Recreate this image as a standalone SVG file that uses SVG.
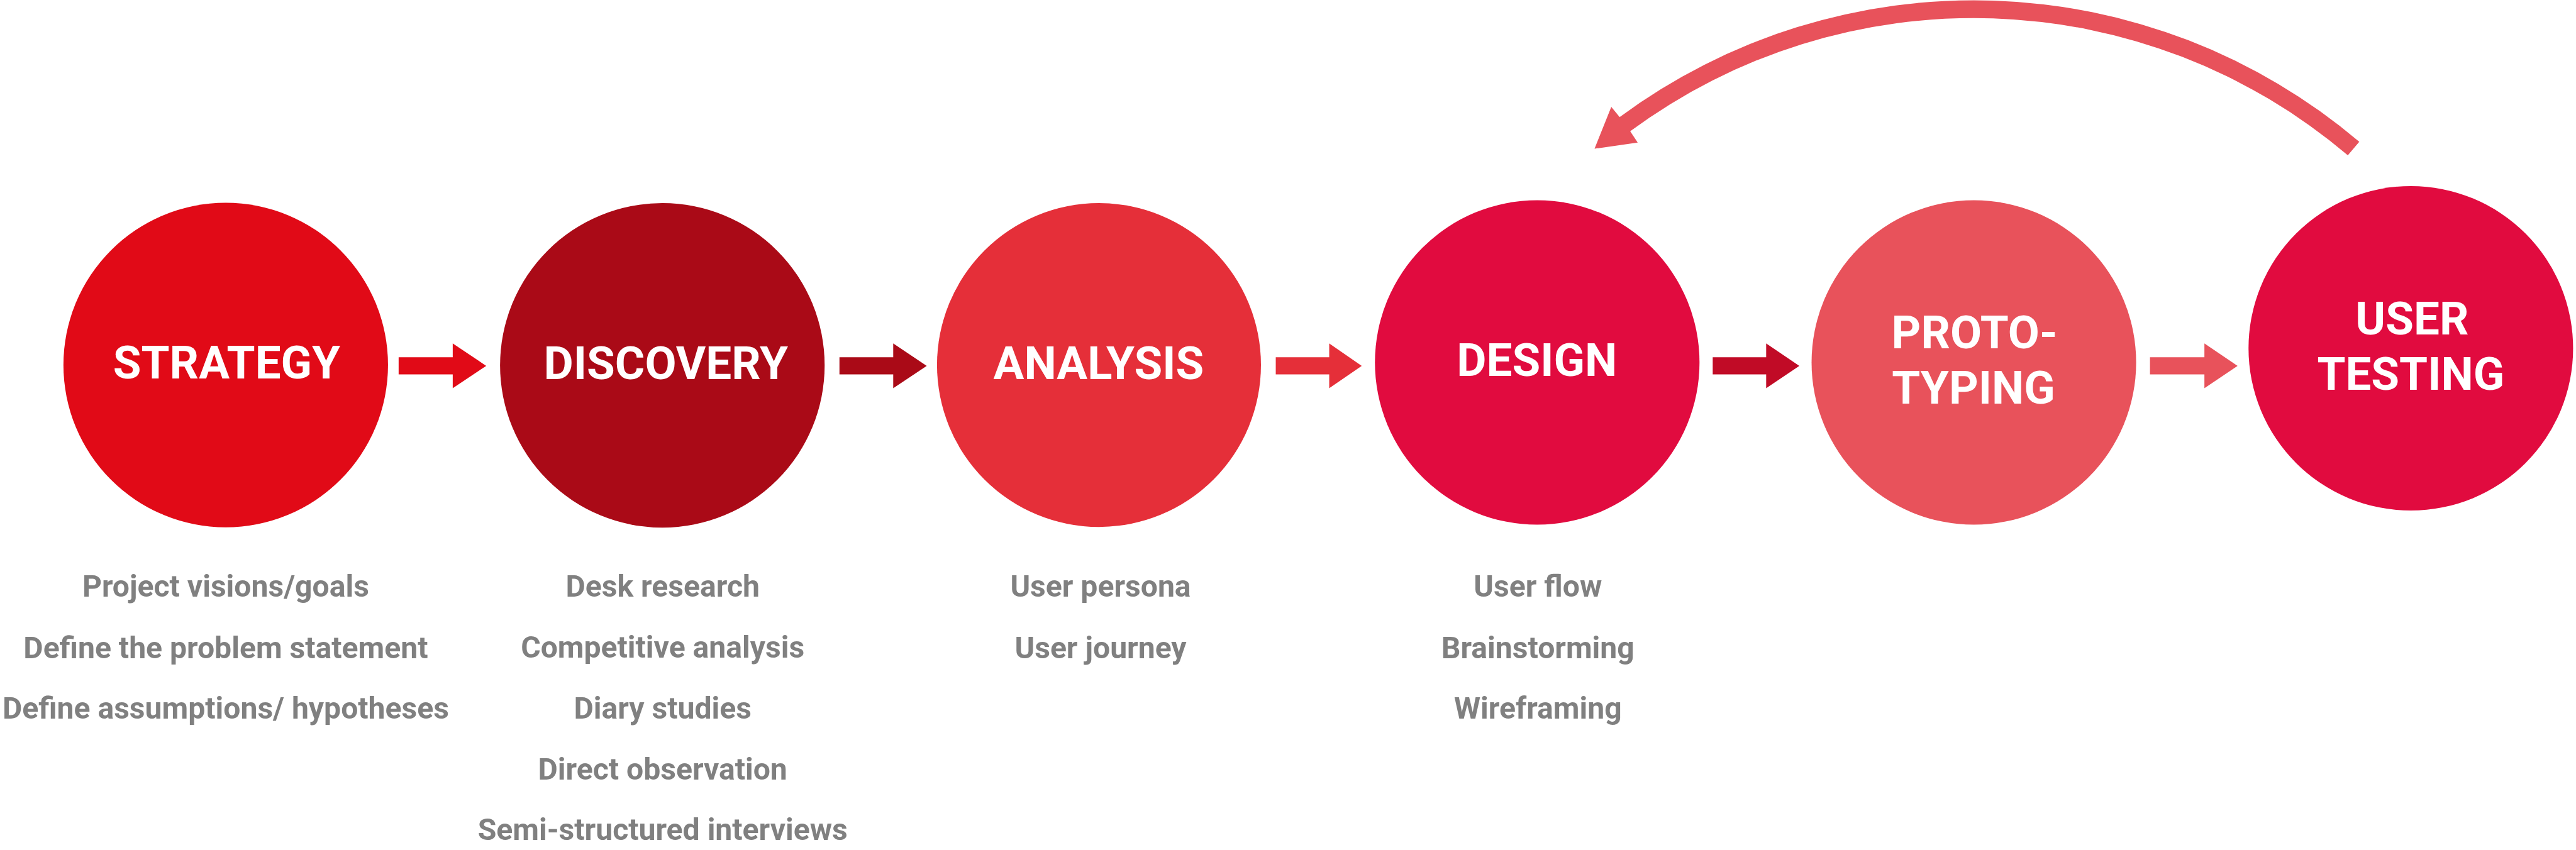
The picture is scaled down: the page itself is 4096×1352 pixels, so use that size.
<svg xmlns="http://www.w3.org/2000/svg" width="4096" height="1352" viewBox="0 0 4096 1352">
<style>
.title{font-family:Roboto,"Liberation Sans",sans-serif;font-weight:700;font-size:142px;fill:#fff;text-anchor:middle}
.sub{font-family:Roboto,"Liberation Sans",sans-serif;font-weight:700;font-size:94px;fill:#808080;text-anchor:middle}
.c1{fill:#E10A17}.c2{fill:#AA0A17}.c3{fill:#E52F39}.c4{fill:#E10B3F}.c5{fill:#E8525B}.c6{fill:#E10B3F}
.a4{fill:#C10B26}
</style>
<rect width="4096" height="1352" fill="#fff"/>
<g transform="scale(0.512)">
<g id="connectors">
<path class="c1" d="M1238 1110H1406V1067L1510 1136.5L1406 1206V1163H1238Z"/>
<path class="c2" d="M2607 1110H2774V1067L2878 1136.5L2774 1206V1163H2607Z"/>
<path class="c3" d="M3962 1110H4128V1067L4229 1136.5L4128 1206V1163H3962Z"/>
<path class="a4" d="M5319 1110H5485V1067L5588 1136.5L5485 1206V1163H5319Z"/>
<path class="c5" d="M6677 1110H6846V1067L6949 1136.5L6846 1206V1163H6677Z"/>
<path id="loop-arrow" class="c5" d="M7327 440.4 A1850 1850 0 0 0 5030 363.6 L5004 332 L4952 462 L5086 443 L5062.7 407.8 A1795 1795 0 0 1 7291.4 482.3 Z"/>
</g>
<g id="node-strategy">
<circle class="c1" cx="701" cy="1134" r="504"/>
<text class="title" x="704" y="1176">STRATEGY</text>
<text class="sub" x="701" y="1853">Project visions/goals</text>
<text class="sub" x="701" y="2044">Define the problem statement</text>
<text class="sub" x="701" y="2233">Define assumptions/ hypotheses</text>
</g>
<g id="node-discovery">
<circle class="c2" cx="2057" cy="1135" r="504"/>
<text class="title" x="2068" y="1177">DISCOVERY</text>
<text class="sub" x="2058" y="1854">Desk research</text>
<text class="sub" x="2058" y="2043">Competitive analysis</text>
<text class="sub" x="2058" y="2232">Diary studies</text>
<text class="sub" x="2058" y="2422">Direct observation</text>
<text class="sub" x="2058" y="2610">Semi-structured interviews</text>
</g>
<g id="node-analysis">
<circle class="c3" cx="3413" cy="1134" r="503"/>
<text class="title" x="3412" y="1177">ANALYSIS</text>
<text class="sub" x="3418" y="1854">User persona</text>
<text class="sub" x="3418" y="2044">User journey</text>
</g>
<g id="node-design">
<circle class="c4" cx="4774" cy="1126" r="504"/>
<text class="title" x="4773" y="1168">DESIGN</text>
<text class="sub" x="4776" y="1854">User flow</text>
<text class="sub" x="4776" y="2044">Brainstorming</text>
<text class="sub" x="4776" y="2233">Wireframing</text>
</g>
<g id="node-prototyping">
<circle class="c5" cx="6130" cy="1126" r="504"/>
<text class="title" x="6132" y="1083">PROTO-</text>
<text class="title" x="6129" y="1253">TYPING</text>
</g>
<g id="node-user-testing">
<circle class="c6" cx="7487" cy="1082" r="504"/>
<text class="title" x="7491" y="1040">USER</text>
<text class="title" x="7487" y="1211">TESTING</text>
</g>
</g>
</svg>
